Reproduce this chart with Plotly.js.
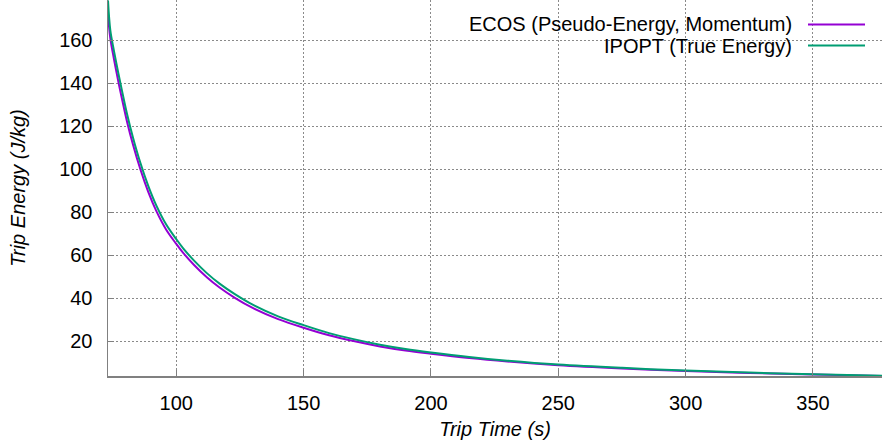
<!DOCTYPE html>
<html>
<head>
<meta charset="utf-8">
<script src="https://cdn.plot.ly/plotly-3.0.1.min.js"></script>
<style>html,body{margin:0;padding:0;background:#fff;}#chart{width:882px;height:440px;}</style>
</head>
<body>
<div id="chart"></div>
<script>
// Data
const seriesNames = ["ECOS (Pseudo-Energy, Momentum)", "IPOPT (True Energy)"];
const seriesColors = ["#9400d3", "#009e73"];
const tripTime = [73.2, 74.1, 75.5, 77.3, 79, 80.7, 83, 85.9, 89, 92.2, 96, 100, 102.8, 107, 112, 117, 123, 130, 140, 150, 160, 169.6, 180, 190, 200, 215, 230, 250, 275, 300, 325, 350, 377.1];
const ecosEnergy = [172, 161, 151.5, 140.5, 131, 122, 111.5, 100, 89.5, 80.5, 72, 65.3, 61, 55.5, 49.8, 45, 40.2, 35.5, 30.3, 26.3, 22.8, 20.1, 17.6, 15.7, 14.2, 12.2, 10.6, 8.9, 7.4, 6.2, 5.3, 4.6, 3.9];
const ipoptEnergy = [178.5, 164.7, 155.3, 144.4, 134.8, 125.6, 114.8, 103, 92.3, 83.1, 74.4, 67.5, 63.1, 57.5, 51.7, 46.8, 41.9, 37, 31.6, 27.5, 23.8, 21, 18.4, 16.4, 14.8, 12.7, 11, 9.2, 7.65, 6.4, 5.45, 4.7, 4.0];
const xTicks = [100, 150, 200, 250, 300, 350];
const yTicks = [20, 40, 60, 80, 100, 120, 140, 160];

const FONT = "Liberation Sans, Arial, Helvetica, sans-serif";
const W = 882, H = 440, ML = 108, MB = 64;
const PW = W - ML, PH = H - MB;
const px = v => (v - ML) / PW;
const py = v => 1 - v / PH;

const seriesData = [ecosEnergy, ipoptEnergy];
const traces = seriesData.map((ys, i) => ({
  x: tripTime, y: ys, type: "scatter", mode: "lines",
  name: seriesNames[i], line: {color: seriesColors[i], width: 2, shape: "spline", smoothing: 1},
  showlegend: false, hoverinfo: "skip"
}));

// legend drawn as annotations + shapes (text left, sample right, like gnuplot)
const legendRowsY = [24.5, 45.5];
const shapes = [{
  type: "rect", xref: "paper", yref: "paper", layer: "between",
  x0: px(420), x1: px(882), y0: py(13), y1: py(57),
  fillcolor: "#ffffff", line: {width: 0}
}];
const annotations = [];
seriesNames.forEach((n, i) => {
  shapes.push({type: "line", xref: "paper", yref: "paper", layer: "above",
    x0: px(808), x1: px(865), y0: py(legendRowsY[i]), y1: py(legendRowsY[i]),
    line: {color: seriesColors[i], width: 2}});
  annotations.push({xref: "paper", yref: "paper", x: px(794), y: py(legendRowsY[i]),
    xanchor: "right", yanchor: "middle", showarrow: false, text: n,
    font: {family: FONT, size: 20, color: "#000"}});
});

const layout = {
  width: W, height: H,
  margin: {l: ML, r: 0, t: 0, b: MB, pad: 0},
  paper_bgcolor: "#fff", plot_bgcolor: "#fff",
  font: {family: FONT, size: 20, color: "#000"},
  xaxis: {
    range: [73.2, 377.1], tickvals: xTicks, ticktext: xTicks.map(String),
    ticks: "inside", ticklen: 6, tickcolor: "#808080", tickwidth: 1,
    showline: true, linecolor: "#808080", linewidth: 1.5,
    showgrid: true, gridcolor: "#8a8a8a", griddash: "1.5px,2.5px", gridwidth: 1,
    zeroline: false, ticklabelstandoff: 8,
    title: {text: "<i>Trip Time (s)</i>", font: {family: FONT, size: 20}, standoff: 9}
  },
  yaxis: {
    range: [3.86, 178.7], tickvals: yTicks, ticktext: yTicks.map(String),
    ticks: "inside", ticklen: 6, tickcolor: "#808080", tickwidth: 1,
    showline: true, linecolor: "#808080", linewidth: 1.5,
    showgrid: true, gridcolor: "#8a8a8a", griddash: "1.5px,2.5px", gridwidth: 1,
    zeroline: false, ticklabelstandoff: 10,
    title: {text: "<i>Trip Energy (J/kg)</i>", font: {family: FONT, size: 20}, standoff: 28}
  },
  shapes: shapes, annotations: annotations, showlegend: false
};

Plotly.newPlot("chart", traces, layout, {staticPlot: true, displayModeBar: false});
</script>
</body>
</html>
